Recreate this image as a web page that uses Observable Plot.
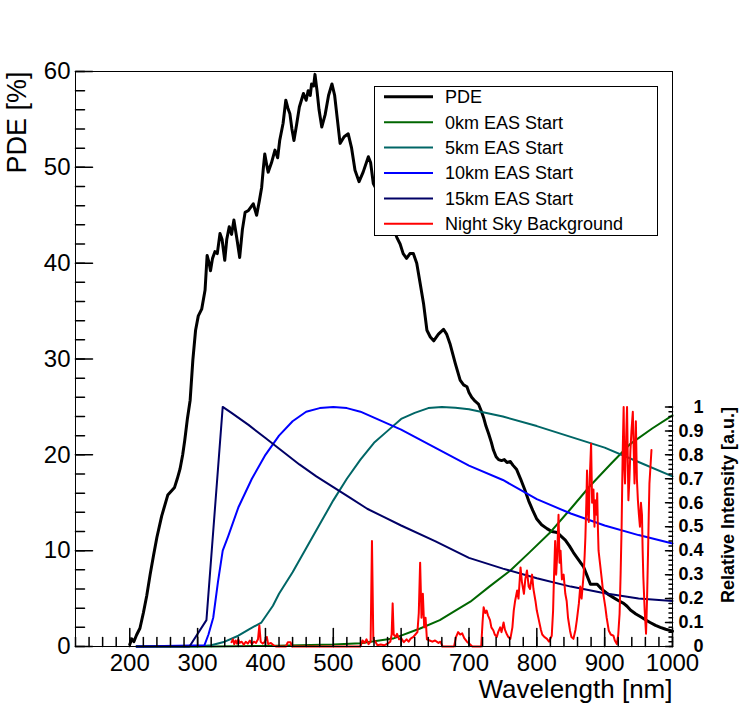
<!DOCTYPE html>
<html><head><meta charset="utf-8">
<script src="https://cdn.jsdelivr.net/npm/d3@7"></script>
<script src="https://cdn.jsdelivr.net/npm/@observablehq/plot@0.6"></script>
<style>
body{margin:0;background:#fff;}
#fig{position:relative;width:748px;height:718px;font-family:"Liberation Sans",Arial,Helvetica,sans-serif;}
#legend{position:absolute;left:374px;top:86px;}
</style></head><body><div id="fig"></div>
<script>
// ---------- DATA ----------
const pdeNm = [200,203,206,210,215,220,225,230,235,240,247,256,261,266,270,274,278,281,285,289,293,297,301,306,311,314,317,319,322,325.5,329,333,336,340,343,346.6,350,353.5,358,362,366,370,375,382,387,391,394.4,397,399,402,404,409,414,418,421,426,430,433,436,439,442,446,450,456,460,463,466,468,471,473,476,479,483,488,493,498,502,506,510,516,522,527,532,538,544,551.7,555,559,565,575,585,593.6,598.5,603,608,613,618,623,628,633,638,643,648,655,662.5,667,672,680,687,692,697,700,704,709,714,718,721.5,725,729,733,736,740,743.6,748,752,756,761,765,770,776,782,788,794,800,807,815,822,830,836,842,848,854,860,865,869,874,879,884,889,894,899,906,913,920,928,933,938,946,953,960,967,975,982,990,1000];
const pdePercent = [0.2,0.8,0.5,1.2,1.9,3.5,5.3,7.5,9.5,11.4,13.6,15.8,16.2,16.6,17.5,18.5,20.0,21.5,23.8,25.7,29.9,33.0,34.5,35.2,37.2,40.8,40.0,39.2,40.5,41.2,41.0,43.1,42.5,40.3,42.5,43.8,43.0,44.5,42.5,40.6,43.5,45.3,45.5,46.2,45.0,46.5,47.9,50.0,51.4,50.2,49.5,50.5,51.8,51.0,52.8,54.6,57.0,56.2,55.6,54.0,52.8,54.5,56.3,57.7,57.0,58.0,57.5,58.7,58.5,59.7,58.0,56.0,54.2,55.5,57.5,58.7,57.5,55.0,52.5,53.2,53.5,52.0,49.7,48.5,49.5,51.1,50.5,48.3,47.5,46.0,44.3,42.7,42.0,41.0,40.5,41.0,41.0,40.0,37.9,35.8,33.0,32.3,31.9,32.6,33.1,32.6,31.6,29.5,27.8,27.3,27.1,26.5,26.0,25.6,25.3,24.6,23.9,23.0,22.2,21.3,20.5,19.8,19.5,19.4,19.5,19.2,19.3,18.9,18.5,17.5,16.4,15.2,14.2,13.3,12.7,12.3,12.0,11.9,11.5,11.1,10.5,9.8,9.2,8.7,8.3,7.4,6.5,6.5,6.5,6.1,5.8,5.4,5.1,4.8,4.5,4.2,3.8,3.4,3.1,2.8,2.5,2.2,2.0,1.8,1.6];

const eas0kmNm  = [210,320,400,450,500,540,588,628,657,680,702,730,761,790,820,850,879,910,938,970,1000];
const eas0kmRel = [0,0,0.002,0.005,0.008,0.014,0.033,0.075,0.11,0.15,0.187,0.25,0.317,0.395,0.477,0.575,0.672,0.765,0.846,0.91,0.965];

const eas5kmNm  = [210,300,320,340,360,377,394,411,420,440,460,480,500,520,540,560,580,600,620,640,660,680,700,750,800,850,900,950,1000];
const eas5kmRel = [0,0,0.005,0.02,0.045,0.074,0.10,0.17,0.22,0.31,0.41,0.51,0.61,0.70,0.78,0.85,0.90,0.95,0.975,0.995,1.0,0.997,0.99,0.96,0.92,0.875,0.83,0.77,0.71];

const eas10kmNm  = [210,310,316,323,330,337,345,360,380,400,420,440,460,480,500,520,540,560,580,600,650,700,750,800,850,900,950,1000];
const eas10kmRel = [0,0.005,0.05,0.12,0.27,0.40,0.46,0.58,0.70,0.80,0.88,0.94,0.98,0.995,1.0,0.995,0.98,0.955,0.93,0.905,0.83,0.755,0.695,0.615,0.555,0.505,0.465,0.43];

const eas15kmNm  = [210,288,313,337,350,375,400,425,450,475,500,525,550,575,600,650,700,750,800,850,900,950,1000];
const eas15kmRel = [0,0,0.11,1.0,0.975,0.925,0.87,0.815,0.76,0.71,0.665,0.62,0.575,0.54,0.505,0.44,0.37,0.325,0.285,0.25,0.222,0.2,0.19];

const nsbNm  = [350,352,354,356,358,360,362,365,368,371,374,377,380,383,386,389,391,393,396,399,402,404,408,412,416,430,433,437,439,540,543,546,549,552,555,557,559,562,565,570,575,580,584,586,587.5,589,592,594,597,600,604,608,611,614,618,621,624,626,628,630,632,634,636,638,642,646,650,655,658,661,678,681,684,687,690,693,697,701,705,718,720,721.6,724,726,728,731,733,736,738,741,743,746,748,751,753,756,758,761,764,766,768,771,773,776,778,781,783,785.5,788,790,793,795,798,800,803,806,808,811,815,818,822,824,825,827,828.5,830,832,833.5,835,837,839.5,842,844,846,849,851,854,857,859,862,864,866,869,870.5,871.6,873,874,875.5,876.6,878,880,881.5,883.5,885,886,888,889,890,891,893,896,898,901,903,906,909,913,915,918,920,922,923.5,925,926.5,928,929,930,931.5,933,934,935,936.5,938,939.5,941.5,943,944,945,946,947.5,949,950.5,952,953.5,955,956,957,959,961,962.5,964,965,966,967.5,969];
const nsbRel = [0.018,0.03,0.01,0.025,0.012,0.03,0.015,0.02,0.008,0.02,0.012,0.025,0.01,0.02,0.015,0.03,0.088,0.02,0.012,0.02,0.04,0.01,0.015,0.005,0,0,0.018,0.018,0,0,0.025,0.015,0.03,0.01,0.02,0.44,0.03,0.02,0.005,0.008,0.005,0.012,0.02,0.05,0.18,0.05,0.04,0.053,0.03,0.035,0.018,0.03,0.02,0.033,0.04,0.05,0.06,0.14,0.35,0.12,0.22,0.08,0.12,0.03,0.025,0.02,0.025,0.015,0.02,0,0,0.04,0.06,0.05,0.055,0.035,0.02,0.01,0,0,0.1,0.164,0.14,0.15,0.13,0.11,0.08,0.067,0.05,0.04,0.06,0.08,0.06,0.10,0.07,0.05,0.04,0.032,0.08,0.15,0.19,0.234,0.2,0.33,0.27,0.22,0.28,0.317,0.25,0.24,0.30,0.24,0.19,0.15,0.11,0.07,0.05,0.04,0.032,0.02,0.045,0.15,0.26,0.44,0.30,0.38,0.55,0.35,0.40,0.28,0.30,0.22,0.19,0.12,0.065,0.04,0.032,0.07,0.11,0.18,0.25,0.2,0.30,0.38,0.456,0.6,0.735,0.55,0.52,0.7,0.846,0.6,0.655,0.5,0.61,0.55,0.64,0.5,0.40,0.35,0.275,0.22,0.164,0.12,0.067,0.05,0.045,0.025,0.01,0.05,0.136,0.3,0.50,0.8,1.0,0.75,0.68,0.85,1.0,0.8,0.61,0.7,0.82,0.9,0.98,0.8,0.68,0.8,0.94,0.7,0.61,0.55,0.50,0.6,0.55,0.4,0.29,0.15,0.053,0.2,0.40,0.55,0.68,0.75,0.82];

const xMajorTicks = [200,300,400,500,600,700,800,900,1000];
const xMinorTicks = d3.range(120, 1001, 20);
const yMajorTicks = [0,10,20,30,40,50,60];
const yMinorTicks = d3.range(0, 61, 2);
const relMajorTicks = [0,0.1,0.2,0.3,0.4,0.5,0.6,0.7,0.8,0.9,1];
const relMinorTicks = d3.range(0, 51).map(i => i / 50);

const legendLabels = ["PDE","0km EAS Start","5km EAS Start","10km EAS Start","15km EAS Start","Night Sky Background"];
const legendColors = ["#000000","#006600","#006666","#0000ff","#000066","#ff0000"];
const legendWidths = [3,2,2,2,2,2];

// ---------- BUILD ----------
const relScale = 25; // 1 relative unit == 25 % on left axis
const pde = pdeNm.map((x, i) => ({x, y: pdePercent[i]}));
const mk = (nm, rel) => nm.map((x, i) => ({x, r: rel[i]}));
const eas = [
  {data: mk(eas0kmNm, eas0kmRel), color: legendColors[1]},
  {data: mk(eas5kmNm, eas5kmRel), color: legendColors[2]},
  {data: mk(eas10kmNm, eas10kmRel), color: legendColors[3]},
  {data: mk(eas15kmNm, eas15kmRel), color: legendColors[4]}
];
const nsb = mk(nsbNm, nsbRel);

const tickShape = {draw(ctx, l) { ctx.moveTo(0, 0); ctx.lineTo(0, -l); }};
const font = '"Liberation Sans", Arial, Helvetica, sans-serif';

const chart = Plot.plot({
  width: 748, height: 718,
  marginLeft: 75, marginRight: 76, marginTop: 71, marginBottom: 72,
  x: {domain: [120, 1000], axis: null},
  y: {domain: [0, 60], axis: null},
  style: {fontFamily: font, background: "white"},
  marks: [
    Plot.line(pde, {x: "x", y: "y", stroke: "#000", strokeWidth: 3, curve: "linear"}),
    ...eas.map(s => Plot.line(s.data, {x: "x", y: d => d.r * relScale, stroke: s.color, strokeWidth: 2})),
    Plot.line(nsb, {x: "x", y: d => d.r * relScale, stroke: "#ff0000", strokeWidth: 2}),
    Plot.frame({stroke: "#000", strokeWidth: 1}),
    // x ticks
    Plot.vectorX(xMinorTicks, {x: d => d, frameAnchor: "bottom", length: 9, rotate: 0, anchor: "start", shape: tickShape, stroke: "#000"}),
    Plot.vectorX(xMajorTicks, {x: d => d, frameAnchor: "bottom", length: 18, rotate: 0, anchor: "start", shape: tickShape, stroke: "#000"}),
    // left y ticks
    Plot.vectorY(yMinorTicks, {y: d => d, frameAnchor: "left", length: 9, rotate: 90, anchor: "start", shape: tickShape, stroke: "#000"}),
    Plot.vectorY(yMajorTicks, {y: d => d, frameAnchor: "left", length: 17, rotate: 90, anchor: "start", shape: tickShape, stroke: "#000"}),
    // right axis ticks
    Plot.vectorY(relMinorTicks, {y: d => d * relScale, frameAnchor: "right", length: 3.5, rotate: -90, anchor: "start", shape: tickShape, stroke: "#000"}),
    Plot.vectorY(relMajorTicks, {y: d => d * relScale, frameAnchor: "right", length: 7, rotate: -90, anchor: "start", shape: tickShape, stroke: "#000"}),
    // tick labels
    Plot.text(xMajorTicks, {x: d => d, frameAnchor: "bottom", dy: 7, lineAnchor: "top", text: d => String(d), fontSize: 24, fill: "#000"}),
    Plot.text(yMajorTicks, {y: d => d, frameAnchor: "left", dx: -5, textAnchor: "end", text: d => String(d), fontSize: 24, fill: "#000"}),
    Plot.text(relMajorTicks, {y: d => d * relScale, frameAnchor: "right", dx: 31, textAnchor: "end", text: d => String(d), fontSize: 18, fontWeight: "bold", fill: "#000"}),
    // axis titles
    Plot.text([1000], {x: d => d, frameAnchor: "bottom", dy: 51, lineAnchor: "bottom", textAnchor: "end", text: () => "Wavelength [nm]", fontSize: 26, fill: "#000"}),
    Plot.text([60], {y: d => d, frameAnchor: "left", dx: -58, rotate: -90, textAnchor: "end", lineAnchor: "middle", text: () => "PDE [%]", fontSize: 27, fill: "#000"}),
    Plot.text([relScale], {y: d => d, frameAnchor: "right", dx: 56, rotate: -90, textAnchor: "end", lineAnchor: "middle", text: () => "Relative Intensity [a.u.]", fontSize: 18, fontWeight: "bold", fill: "#000"})
  ]
});
const fig = document.getElementById("fig");
fig.appendChild(chart);

// legend box (inside the frame, top right)
const lw = 284, lh = 150;
const leg = d3.select(fig).append("div").attr("id", "legend")
  .append("svg").attr("width", lw).attr("height", lh).style("display", "block");
leg.append("rect").attr("x", 0.5).attr("y", 0.5).attr("width", lw - 1).attr("height", lh - 1)
  .attr("fill", "#fff").attr("stroke", "#000").attr("stroke-width", 1);
legendLabels.forEach((lab, i) => {
  const cy = 10.8 + 25.4 * i;
  leg.append("line").attr("x1", 10).attr("x2", 59).attr("y1", cy).attr("y2", cy)
    .attr("stroke", legendColors[i]).attr("stroke-width", legendWidths[i]);
  leg.append("text").attr("x", 71).attr("y", cy).attr("dy", "0.36em")
    .attr("font-family", font).attr("font-size", 18).attr("fill", "#000").text(lab);
});
</script>
</body></html>
